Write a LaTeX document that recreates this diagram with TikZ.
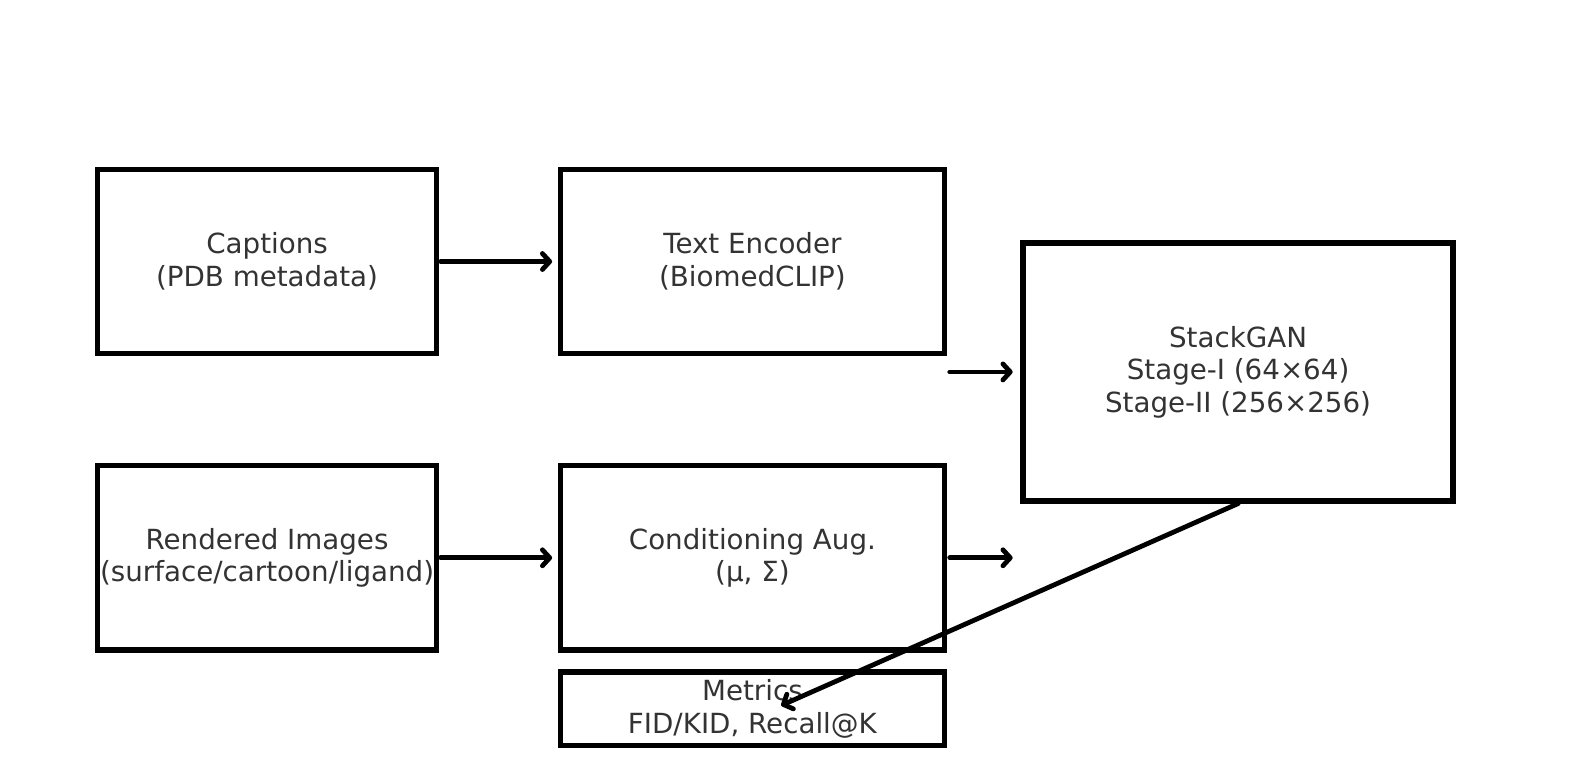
\documentclass[tikz,border=0pt]{standalone}
\usepackage{fontspec}
\setmainfont{DejaVu Sans}
\usepackage{xcolor}
\usepackage{tikz}
\usetikzlibrary{arrows.meta, positioning, calc}

\definecolor{labelgray}{HTML}{333333}

\begin{document}
\begin{tikzpicture}[
    stage/.style={rectangle, draw, line width=4pt, minimum width=#1,
                  minimum height=138.3pt, inner sep=0pt, align=center,
                  font=\fontsize{20.8}{24.4}\selectfont, text=labelgray},
    arr/.style={-{Straight Barb[length=5.5pt, width=12pt, line join=round, line cap=round]},
                line width=3.6pt, line cap=round},
]
    % Inputs and encoders
    \node[stage=254pt] (captions) {Captions\\(PDB metadata)};
    \node[stage=288pt, right=89pt of captions] (encoder) {Text Encoder\\(BiomedCLIP)};
    \node[stage=254pt, below=79.9pt of captions] (renders) {Rendered Images\\(surface/cartoon/ligand)};
    \node[stage=288pt, right=89pt of renders] (condaug) {Conditioning Aug.\\(μ, Σ)};

    % Generator and evaluation
    \node[stage=322.5pt, minimum height=193.5pt, anchor=north west,
          below right=55.2pt and 55pt of encoder.north east] (stackgan)
          {StackGAN\\Stage-I (64×64)\\Stage-II (256×256)};
    \node[stage=288pt, minimum height=55.2pt, below=12.6pt of condaug] (metrics)
          {Metrics\\FID/KID, Recall@K};

    \useasboundingbox ($(captions.north west)+(-71.3pt,125pt)$) rectangle ++(1185pt,-585pt);

    % Connectors
    \coordinate (encout) at ($(encoder.east |- stackgan.west)+(2pt,0)$);
    \coordinate (condout) at ($(condaug.east)+(2pt,0)$);
    \coordinate (condend) at (stackgan.west |- condaug.east);
    \coordinate (mtip) at ($(metrics.center)+(21.6pt,2.6pt)$);

    \draw[arr, shorten <=1.2pt, shorten >=4.2pt] (captions) -- (encoder);
    \draw[arr, shorten <=1.2pt, shorten >=4.2pt] (renders) -- (condaug);
    \draw[arr, shorten >=5.8pt] (encout) -- (stackgan.west);
    \draw[arr, shorten >=5.8pt] (condout) -- (condend);
    \draw[arr] (stackgan.south) -- (mtip);

\end{tikzpicture}
\end{document}
